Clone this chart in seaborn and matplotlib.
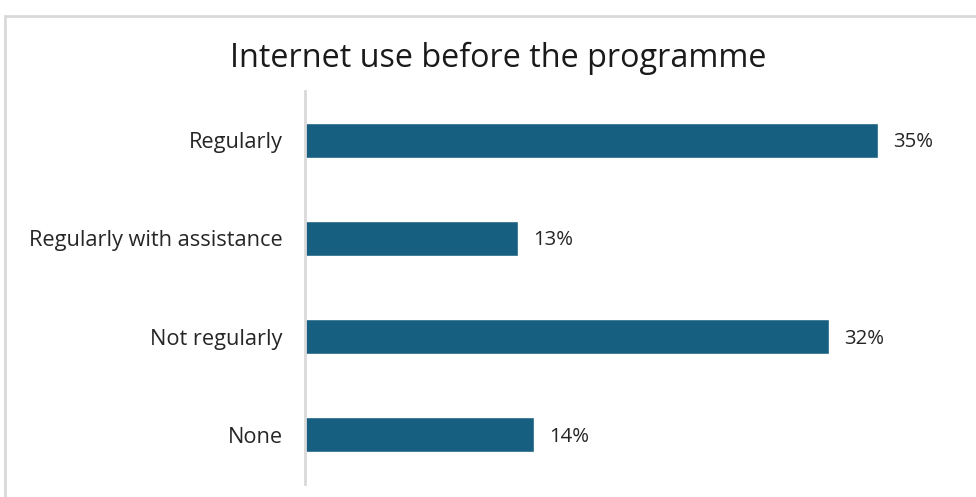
import matplotlib
matplotlib.use("Agg")
import matplotlib.pyplot as plt
import seaborn as sns
import pandas as pd
from matplotlib.patches import Rectangle

categories = ["Regularly", "Regularly with assistance", "Not regularly", "None"]
values = [35, 13, 32, 14]
value_labels = ["35%", "13%", "32%", "14%"]
title = "Internet use before the programme"

df = pd.DataFrame({"category": categories, "value": values})

sns.set_theme(style="white")
plt.rcParams["font.family"] = ["Open Sans", "DejaVu Sans"]

fig = plt.figure(figsize=(9.76, 4.97), dpi=100)
ax = fig.add_axes([305/976, 1 - 484/497, (960 - 305)/976, (484 - 91)/497])

sns.barplot(data=df, y="category", x="value", orient="h", color="#175f81",
            width=0.355, saturation=1, ax=ax)

ax.set_xlim(0, (960 - 305) / 16.37)
ax.set_ylim(3.5, -0.5)
ax.set_xlabel("")
ax.set_ylabel("")
ax.set_xticks([])
for s in ["top", "right", "bottom"]:
    ax.spines[s].set_visible(False)
ax.spines["left"].set_color("#d9d9d9")
ax.spines["left"].set_linewidth(2)
ax.tick_params(axis="y", length=0, pad=16, labelsize=15.7, labelcolor="#262626")

for i, (v, lab) in enumerate(zip(values, value_labels)):
    ax.annotate(lab, xy=(v, i), xytext=(15, -2), textcoords="offset pixels",
                va="center", ha="left", fontsize=14.7, color="#262626")

fig.text(498/976, 1 - 58/497, title, ha="center", va="center", fontsize=23.3, color="#1a1a1a")

fig.patches.append(Rectangle((5/976, -0.05), 1.0, 1 - 16/497 + 0.05, transform=fig.transFigure,
                             fill=False, edgecolor="#d9d9d9", linewidth=2, figure=fig))

fig.savefig("out.png", dpi=100)
